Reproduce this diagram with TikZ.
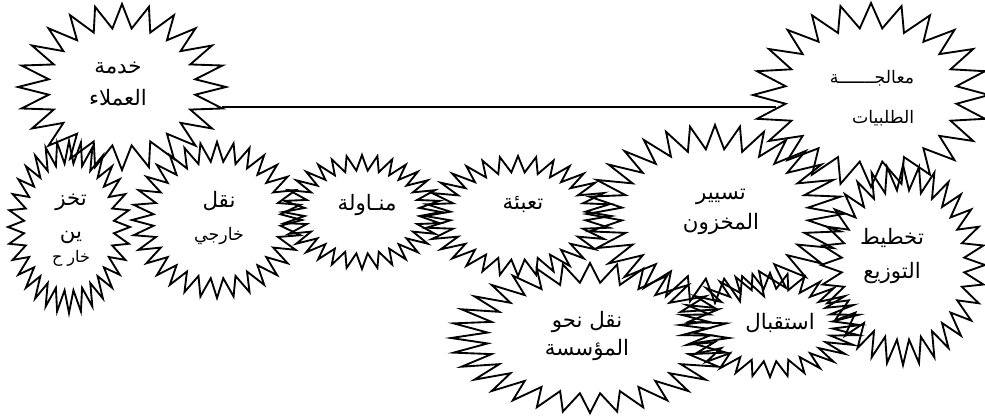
\documentclass[tikz,border=0pt]{standalone}
\usepackage{fontspec}
\newfontfamily\arabicfont[Script=Arabic]{DejaVu Sans}
\TeXXeTstate=1
\newcommand\AR[1]{\beginR #1\endR}
% cx cy rx ry npoints inner rot
\newcommand\burstshape[7]{%
  \pgfmathtruncatemacro\burstlast{2*#5-1}%
  \draw[burstline] ({#1+#3*cos(#7)},{#2+#4*sin(#7)})
    \foreach \bi in {1,...,\burstlast}{
      -- ({#1+(1-(1-#6)*mod(\bi,2))*#3*cos(#7+\bi*180/#5)},{#2+(1-(1-#6)*mod(\bi,2))*#4*sin(#7+\bi*180/#5)})
    } -- cycle;}
\tikzset{
  burstline/.style={draw=black, line width=1.4pt, line join=miter, miter limit=20},
  lbl/.style={font=\arabicfont\fontsize{16}{#1}\selectfont, align=center, inner sep=0pt, text=black},
  conn/.style={draw=black, line width=1pt}
}
\begin{document}
\begin{tikzpicture}[x=0.75pt, y=-0.75pt]
\useasboundingbox (0,0) rectangle (985,417);
% starbursts
\burstshape{122}{87}{104}{83}{24}{0.71}{0}
\burstshape{871}{95}{118}{92}{24}{0.73}{0}
\burstshape{69}{227}{61}{86}{32}{0.74}{0}
\burstshape{217}{220}{85}{78}{32}{0.75}{0}
\burstshape{362}{212}{79}{57}{32}{0.73}{0}
\burstshape{518}{216}{93}{60}{32}{0.73}{0}
\burstshape{715}{214}{128}{89}{32}{0.73}{0}
\burstshape{903}{265}{82}{100}{32}{0.75}{0}
\burstshape{590}{338}{139}{75}{32}{0.74}{0}
\burstshape{770}{325}{90}{52}{32}{0.70}{0}
% labels
\node[lbl=24] (cust) at (118,84) {\AR{خدمة}\\\AR{العملاء}};
\node[lbl=30, font=\arabicfont\fontsize{13}{30}\selectfont, align=right] (proc) at (872,98) {\AR{معالجـــــــة}\\\AR{الطلبيات}};
\node[lbl=25] (stor) at (71,230) {\AR{تخز}\\\AR{ين}\\[-7pt]{\fontsize{12}{14}\selectfont\AR{خار ح}}};
\node[lbl=25] (extr) at (219,218) {\AR{نقل}\\{\fontsize{13}{15}\selectfont\AR{خارجي}}};
\node[lbl=20] (hand) at (367,205) {\AR{منـاولة}};
\node[lbl=20] (pack) at (523,205) {\AR{تعبئة}};
\node[lbl=23] (inv) at (721,212) {\AR{تسيير}\\\AR{المخزون}};
\node[lbl=26] (dist) at (892,256) {\AR{تخطيط}\\\AR{التوزيع}};
\node[lbl=21] (inb) at (587,336) {\AR{نقل نحو}\\\AR{المؤسسة}};
\node[lbl=20] (recv) at (780,323) {\AR{استقبال}};
% connector
\coordinate (custTip) at (222,107);
\coordinate (procTip) at (776,107);
\draw[conn] (custTip) -- (procTip);
\end{tikzpicture}
\end{document}
